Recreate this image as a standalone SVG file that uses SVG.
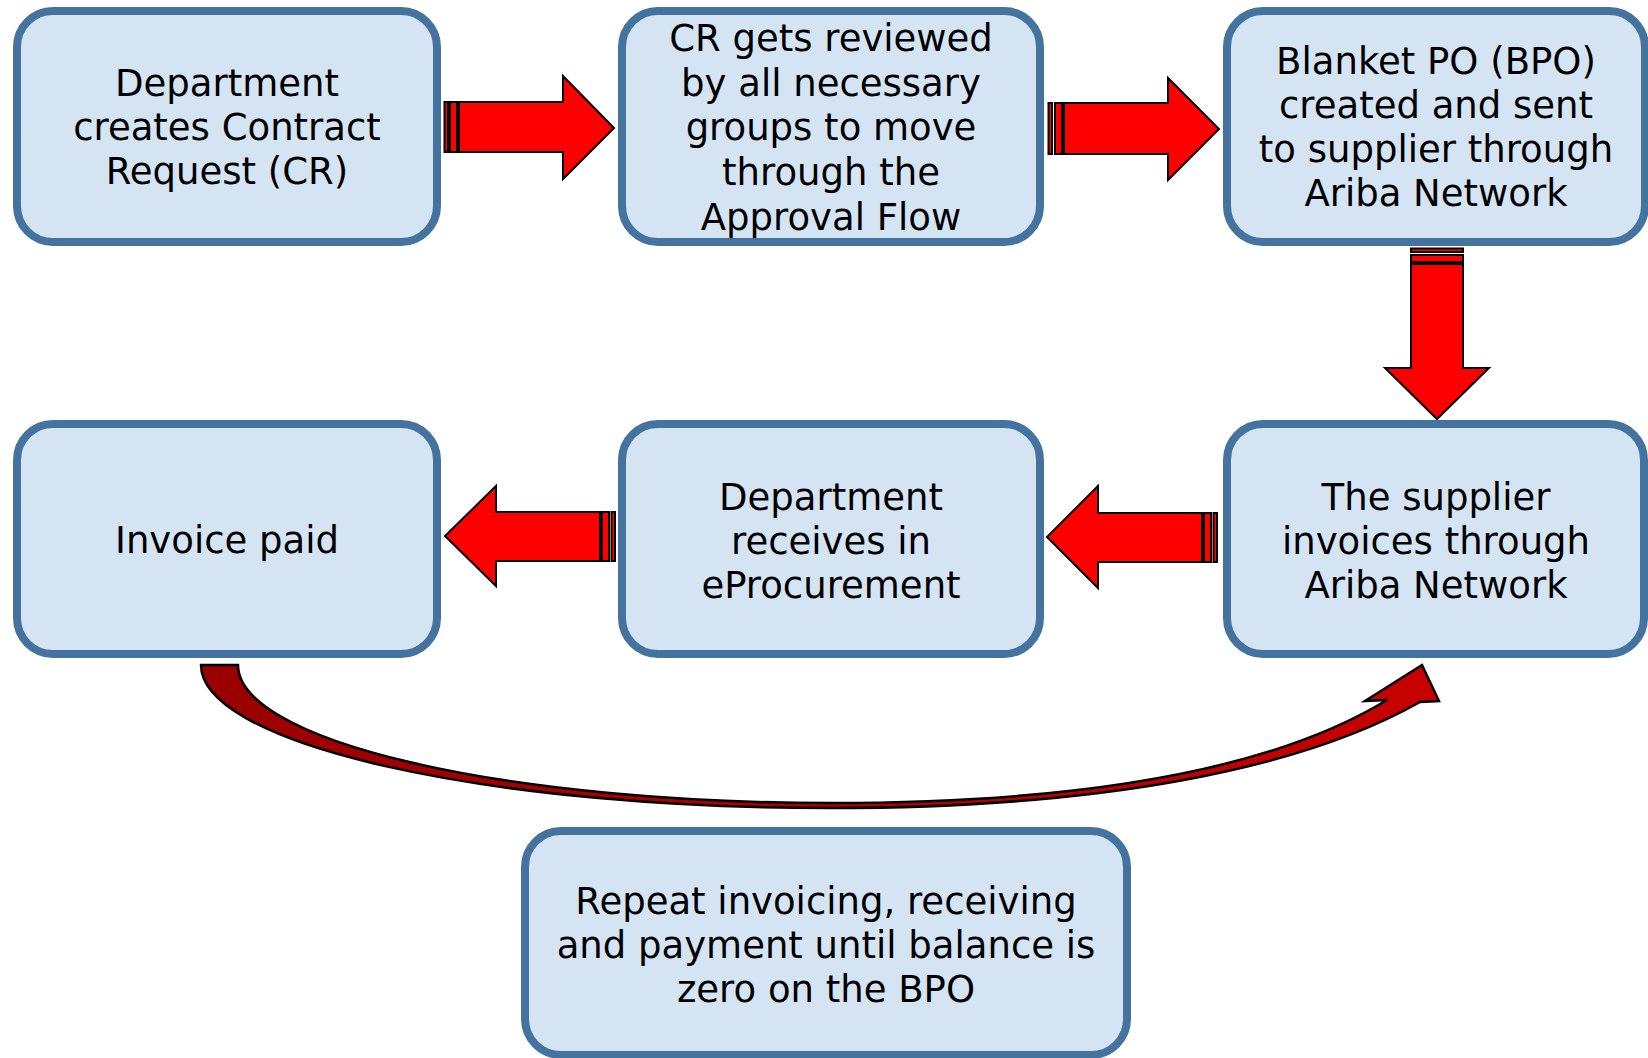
<svg xmlns="http://www.w3.org/2000/svg" width="1648" height="1058" viewBox="0 0 1648 1058">
<style>
.box{fill:#D5E4F3;stroke:#44739F;stroke-width:8}
.t{font-family:"DejaVu Sans","Verdana",sans-serif;font-size:37px;fill:#000;text-anchor:middle}
.arr{fill:#FF0000;stroke:#000;stroke-width:2;stroke-linejoin:miter}
</style>
<defs>
<linearGradient id="cg" x1="0" y1="0" x2="1" y2="0">
<stop offset="0" stop-color="#990000"/>
<stop offset="1" stop-color="#C80000"/>
</linearGradient>
</defs>
<rect width="1648" height="1058" fill="#fff"/>
<g id="connectors">
<g id="a1">
<rect class="arr" x="444.5" y="102" width="3.5" height="50"/>
<rect class="arr" x="450" y="102" width="7" height="50"/>
<polygon class="arr" points="459,102 563,102 563,76 614,128 563,179 563,152 459,152"/>
</g>
<g id="a2">
<rect class="arr" x="1048.5" y="103" width="3.5" height="51"/>
<rect class="arr" x="1055" y="103" width="7" height="51"/>
<polygon class="arr" points="1064,103 1168,103 1168,78 1219,129 1168,180 1168,154 1064,154"/>
</g>
<g id="a3">
<rect class="arr" x="1411" y="248.5" width="52" height="3.5" fill="#800000"/>
<rect class="arr" x="1411" y="255" width="52" height="7"/>
<polygon class="arr" points="1411,264 1463,264 1463,368 1489,368 1437,419 1385,368 1411,368"/>
</g>
<g id="a4">
<rect class="arr" x="1213.5" y="513" width="3.5" height="49"/>
<rect class="arr" x="1204" y="513" width="7" height="49"/>
<polygon class="arr" points="1202,513 1098,513 1098,486 1047,537 1098,588 1098,562 1202,562"/>
</g>
<g id="a5">
<rect class="arr" x="611.5" y="512" width="3.5" height="49"/>
<rect class="arr" x="602" y="512" width="7" height="49"/>
<polygon class="arr" points="600,512 496,512 496,486 445,536 496,586 496,561 600,561"/>
</g>
<g id="a6">
<path d="M201,665 A629,143 0 0 0 830,808 C1100,808 1300,770 1420,702 L1439,701 L1422,665 L1365,701 L1387,700 C1280,765 1100,803 830,803 A592,138 0 0 1 238,665 Z" fill="url(#cg)" stroke="#000" stroke-width="2.5" stroke-linejoin="miter"/>
</g>
</g>
<g id="n1">
<rect class="box" x="17" y="11" width="420" height="231" rx="36"/>
<text class="t" x="227" y="96">Department</text>
<text class="t" x="227" y="140">creates Contract</text>
<text class="t" x="227" y="184">Request (CR)</text>
</g>
<g id="n2">
<rect class="box" x="622" y="11" width="418" height="231" rx="36"/>
<text class="t" x="831" y="51">CR gets reviewed</text>
<text class="t" x="831" y="96">by all necessary</text>
<text class="t" x="831" y="140">groups to move</text>
<text class="t" x="831" y="185">through the</text>
<text class="t" x="831" y="230">Approval Flow</text>
</g>
<g id="n3">
<rect class="box" x="1227" y="11" width="418" height="231" rx="36"/>
<text class="t" x="1436" y="74">Blanket PO (BPO)</text>
<text class="t" x="1436" y="118">created and sent</text>
<text class="t" x="1436" y="162">to supplier through</text>
<text class="t" x="1436" y="206">Ariba Network</text>
</g>
<g id="n4">
<rect class="box" x="17" y="424" width="420" height="230" rx="36"/>
<text class="t" x="227" y="553">Invoice paid</text>
</g>
<g id="n5">
<rect class="box" x="622" y="424" width="418" height="230" rx="36"/>
<text class="t" x="831" y="510">Department</text>
<text class="t" x="831" y="554">receives in</text>
<text class="t" x="831" y="598">eProcurement</text>
</g>
<g id="n6">
<rect class="box" x="1227" y="424" width="417" height="230" rx="36"/>
<text class="t" x="1436" y="510">The supplier</text>
<text class="t" x="1436" y="554">invoices through</text>
<text class="t" x="1436" y="598">Ariba Network</text>
</g>
<g id="n7">
<rect class="box" x="525" y="831" width="602" height="224" rx="36"/>
<text class="t" x="826" y="914">Repeat invoicing, receiving</text>
<text class="t" x="826" y="958">and payment until balance is</text>
<text class="t" x="826" y="1002">zero on the BPO</text>
</g>
</svg>
